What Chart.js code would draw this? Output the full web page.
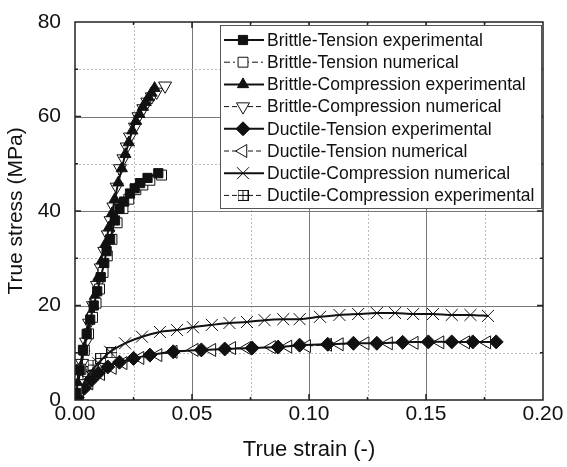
<!DOCTYPE html>
<html lang="en">
<head>
    <meta charset="UTF-8">
    <title>True stress vs true strain</title>
    <script src="https://cdn.jsdelivr.net/npm/chart.js"></script>
    <style>
        html, body { margin: 0; padding: 0; background: #fff; }
        #wrap { width: 567px; height: 467px; position: relative; }
    </style>
</head>
<body>
<div id="wrap"><canvas id="stressChart"></canvas></div>

<script>
    // data: strain (-) / stress (MPa)
    const btExpX = [0.0005, 0.002, 0.0034, 0.005, 0.0065, 0.008, 0.0095, 0.011, 0.0125, 0.0135, 0.015, 0.0171, 0.019, 0.021, 0.0235, 0.0255, 0.0278, 0.031, 0.0356];
    const btExpY = [1.5, 6.3, 10.6, 14, 17, 20, 23, 26, 29, 31.5, 34, 38, 40.5, 42, 43.7, 44.8, 45.9, 47, 48];
    const btNumX = [0.0008, 0.0025, 0.004, 0.0058, 0.0075, 0.009, 0.0105, 0.012, 0.0138, 0.0158, 0.018, 0.0205, 0.023, 0.026, 0.029, 0.032, 0.037];
    const btNumY = [2, 6.5, 10.5, 14, 17.5, 20.5, 23.5, 27, 30.5, 34, 37.5, 40.5, 42.5, 44.5, 45.5, 46.5, 47.6];
    const bcExpX = [0.0003, 0.0012, 0.0025, 0.004, 0.0055, 0.007, 0.0085, 0.01, 0.0115, 0.013, 0.0145, 0.0158, 0.017, 0.0185, 0.02, 0.0215, 0.023, 0.0245, 0.026, 0.0275, 0.029, 0.0302, 0.0315, 0.0327, 0.034];
    const bcExpY = [0.8, 3.5, 7, 11, 14.5, 18.5, 22, 26, 29.5, 33, 36.5, 39.5, 42.5, 46, 49, 52, 54.5, 57, 59, 60.5, 62, 63, 64, 65, 66];
    const bcNumX = [0.0005, 0.0015, 0.003, 0.0047, 0.006, 0.0077, 0.0094, 0.011, 0.0125, 0.014, 0.0152, 0.0164, 0.0178, 0.0192, 0.0207, 0.0221, 0.0235, 0.0256, 0.0271, 0.0292, 0.0309, 0.0328, 0.0349, 0.0385];
    const bcNumY = [1, 3.5, 7.8, 12.3, 16.3, 20, 24.3, 28, 31.5, 35, 38, 40.9, 45.1, 49, 51.1, 53.6, 55.7, 57.8, 60, 61.7, 63.1, 64.2, 65.2, 66.5];
    const dtExpX = [0.001, 0.004, 0.007, 0.010, 0.014, 0.019, 0.025, 0.032, 0.042, 0.054, 0.064, 0.0757, 0.0868, 0.096, 0.108, 0.119, 0.129, 0.14, 0.151, 0.161, 0.17, 0.18];
    const dtExpY = [0.5, 2.5, 4.2, 5.7, 7, 8, 8.8, 9.5, 10.2, 10.6, 10.8, 11, 11.2, 11.6, 11.8, 12, 12, 12.2, 12.3, 12.3, 12.3, 12.3];
    const dtNumX = [0.002, 0.006, 0.011, 0.016, 0.0206, 0.0278, 0.0355, 0.042, 0.051, 0.0585, 0.067, 0.0735, 0.084, 0.091, 0.099, 0.108, 0.113, 0.124, 0.134, 0.145, 0.156, 0.167, 0.176];
    const dtNumY = [1.5, 3.5, 5.5, 6.8, 7.8, 8.9, 9.5, 10.2, 10.6, 10.6, 11, 11, 11.2, 11.3, 11.4, 11.7, 11.8, 12, 12, 12.1, 12.2, 12.2, 12.2];
    const dcNumX = [0, 0.003, 0.006, 0.01, 0.015, 0.0214, 0.0286, 0.0363, 0.0436, 0.0504, 0.0585, 0.066, 0.0735, 0.081, 0.089, 0.096, 0.1047, 0.113, 0.121, 0.129, 0.1368, 0.1445, 0.153, 0.161, 0.169, 0.1765];
    const dcNumY = [0, 3, 5.5, 7.8, 10.2, 12, 13.4, 14.4, 14.8, 15.4, 15.9, 16.3, 16.5, 16.9, 17.1, 17.1, 17.6, 18, 18.2, 18.4, 18.4, 18.2, 18.2, 18, 18, 17.8];
    const dcExpX = [0.0005, 0.002, 0.0034, 0.0055, 0.0077, 0.011, 0.0158];
    const dcExpY = [0.5, 2.5, 4.2, 6, 7.4, 8.8, 10];

    const xTicks = [0, 0.05, 0.10, 0.15, 0.20];
    const yTicks = [0, 20, 40, 60, 80];

    const FONT = '"Liberation Sans", Arial, sans-serif';

    function pts(xs, ys) {
        return xs.map((x, i) => ({x: x, y: ys[i]}));
    }

    // boxed plus marker for Ductile-Compression experimental
    function boxPlus(size) {
        const c = document.createElement('canvas');
        c.width = size; c.height = size;
        const g = c.getContext('2d');
        g.fillStyle = '#fff';
        g.fillRect(0, 0, size, size);
        g.strokeStyle = '#111';
        g.lineWidth = 1;
        g.strokeRect(0.5, 0.5, size - 1, size - 1);
        g.beginPath();
        g.moveTo(size / 2, 0); g.lineTo(size / 2, size);
        g.moveTo(0, size / 2); g.lineTo(size, size / 2);
        g.stroke();
        return c;
    }

    const series = [
        {label: 'Brittle-Tension experimental', data: pts(btExpX, btExpY), pointStyle: 'rect', rot: 0, fill: '#111', dash: [], width: 2, r: 6.5},
        {label: 'Brittle-Tension numerical', data: pts(btNumX, btNumY), pointStyle: 'rect', rot: 0, fill: '#fff', dash: [6, 3, 2, 3], width: 1, r: 7},
        {label: 'Brittle-Compression experimental', data: pts(bcExpX, bcExpY), pointStyle: 'triangle', rot: 0, fill: '#111', dash: [], width: 2, r: 6.5},
        {label: 'Brittle-Compression numerical', data: pts(bcNumX, bcNumY), pointStyle: 'triangle', rot: 180, fill: '#fff', dash: [5, 3], width: 1, r: 7.5},
        {label: 'Ductile-Tension experimental', data: pts(dtExpX, dtExpY), pointStyle: 'rectRot', rot: 0, fill: '#111', dash: [], width: 2, r: 7},
        {label: 'Ductile-Tension numerical', data: pts(dtNumX, dtNumY), pointStyle: 'triangle', rot: -90, fill: '#fff', dash: [5, 3], width: 1, r: 7.5},
        {label: 'Ductile-Compression numerical', data: pts(dcNumX, dcNumY), pointStyle: 'crossRot', rot: 0, fill: '#fff', dash: [], width: 2, r: 8.5},
        {label: 'Ductile-Compression experimental', data: pts(dcExpX, dcExpY), pointStyle: boxPlus(11), rot: 0, fill: '#fff', dash: [5, 3], width: 1, r: 6}
    ];

    const datasets = series.map(s => ({
        label: s.label,
        data: s.data,
        borderColor: '#111',
        backgroundColor: s.fill,
        borderWidth: s.width,
        borderDash: s.dash,
        pointStyle: s.pointStyle,
        pointRotation: s.rot,
        pointRadius: s.r,
        pointBorderWidth: 1,
        pointBorderColor: '#111',
        pointBackgroundColor: s.fill,
        tension: 0.3
    }));

    // grid, inner ticks, frame and legend box like the original plot
    const framePlugin = {
        id: 'frame',
        beforeDatasetsDraw(chart) {
            const {ctx, chartArea: a, scales: {x, y}} = chart;
            ctx.save();
            for (let i = 1; i < 8; i++) {
                const px = Math.round(x.getPixelForValue(i * 0.025)) + 0.5;
                ctx.strokeStyle = i % 2 ? '#bbb' : '#777';
                ctx.setLineDash(i % 2 ? [2, 2] : []);
                ctx.beginPath(); ctx.moveTo(px, a.top); ctx.lineTo(px, a.bottom); ctx.stroke();
            }
            for (let i = 1; i < 8; i++) {
                const py = Math.round(y.getPixelForValue(i * 10)) + 0.5;
                ctx.strokeStyle = i % 2 ? '#bbb' : '#777';
                ctx.setLineDash(i % 2 ? [2, 2] : []);
                ctx.beginPath(); ctx.moveTo(a.left, py); ctx.lineTo(a.right, py); ctx.stroke();
            }
            ctx.restore();
        },
        afterDatasetsDraw(chart) {
            const {ctx, chartArea: a, scales: {x, y}} = chart;
            ctx.save();
            ctx.strokeStyle = '#222';
            ctx.lineWidth = 1.5;
            ctx.strokeRect(a.left, a.top, a.right - a.left, a.bottom - a.top);
            for (let i = 1; i < 8; i++) {
                const px = x.getPixelForValue(i * 0.025);
                const len = i % 2 ? 3 : 6;
                ctx.beginPath();
                ctx.moveTo(px, a.bottom); ctx.lineTo(px, a.bottom - len);
                ctx.moveTo(px, a.top); ctx.lineTo(px, a.top + len);
                ctx.stroke();
                const py = y.getPixelForValue(i * 10);
                ctx.beginPath();
                ctx.moveTo(a.left, py); ctx.lineTo(a.left + len, py);
                ctx.moveTo(a.right, py); ctx.lineTo(a.right - len, py);
                ctx.stroke();
            }

            // legend
            const lx = 220, ly = 25, lw = 321, lh = 183;
            ctx.fillStyle = '#fff';
            ctx.fillRect(lx, ly, lw, lh);
            ctx.strokeStyle = '#555';
            ctx.lineWidth = 1;
            ctx.strokeRect(lx + 0.5, ly + 0.5, lw, lh);
            ctx.font = '17.5px ' + FONT;
            ctx.textBaseline = 'middle';
            datasets.forEach((d, i) => {
                const cy = ly + 15 + i * 22.2;
                ctx.strokeStyle = '#111';
                ctx.lineWidth = d.borderWidth;
                ctx.setLineDash(d.borderDash);
                ctx.beginPath(); ctx.moveTo(lx + 4, cy); ctx.lineTo(lx + 44, cy); ctx.stroke();
                ctx.setLineDash([]);
                ctx.fillStyle = d.pointBackgroundColor;
                ctx.lineWidth = 1;
                Chart.helpers.drawPoint(ctx, {
                    pointStyle: d.pointStyle,
                    rotation: d.pointRotation,
                    radius: d.pointRadius,
                    borderWidth: 1
                }, lx + 23, cy);
                ctx.fillStyle = '#111';
                ctx.fillText(d.label, lx + 47, cy + 1);
            });
            ctx.restore();
        }
    };

    const ctx = document.getElementById('stressChart').getContext('2d');
    const stressChart = new Chart(ctx, {
        type: 'line',
        data: {datasets: datasets},
        options: {
            responsive: true,
            maintainAspectRatio: false,
            animation: false,
            layout: {padding: {top: 22, right: 24, left: 0, bottom: 0}},
            plugins: {
                legend: {display: false},
                tooltip: {enabled: false}
            },
            scales: {
                x: {
                    type: 'linear',
                    min: 0,
                    max: 0.2,
                    afterBuildTicks: s => { s.ticks = xTicks.map(v => ({value: v})); },
                    afterFit: s => { s.height = 67; },
                    grid: {display: false},
                    border: {display: false},
                    ticks: {
                        color: '#111',
                        padding: -6,
                        font: {family: FONT, size: 21},
                        callback: v => v.toFixed(2)
                    },
                    title: {
                        display: true,
                        text: 'True strain (-)',
                        color: '#111',
                        padding: {top: 8},
                        font: {family: FONT, size: 22}
                    }
                },
                y: {
                    type: 'linear',
                    min: 0,
                    max: 80,
                    afterBuildTicks: s => { s.ticks = yTicks.map(v => ({value: v})); },
                    afterFit: s => { s.width = 75; },
                    grid: {display: false},
                    border: {display: false},
                    ticks: {
                        color: '#111',
                        padding: 6,
                        font: {family: FONT, size: 21}
                    },
                    title: {
                        display: true,
                        text: 'True stress (MPa)',
                        color: '#111',
                        padding: {bottom: 0},
                        font: {family: FONT, size: 21}
                    }
                }
            }
        },
        plugins: [framePlugin]
    });
</script>
</body>
</html>
